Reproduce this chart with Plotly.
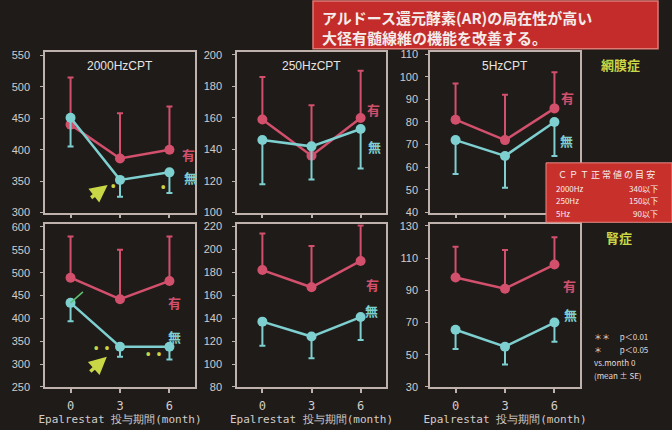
import plotly.graph_objects as go

# ---- data: CPT (current perception threshold) over Epalrestat treatment ----
months = [0, 3, 6]
month_labels = ["0", "3", "6"]

panel_titles = ["2000HzCPT", "250HzCPT", "5HzCPT"]

# 網膜症 (retinopathy) row
ret_2000_yes = [440, 386, 400]
ret_2000_yes_se = [75, 72, 69]
ret_2000_no = [451, 352, 364]
ret_2000_no_se = [46, 27, 33]

ret_250_yes = [159, 136, 160]
ret_250_yes_se = [27, 32, 30]
ret_250_no = [146, 142, 153]
ret_250_no_se = [28, 21, 25]

ret_5_yes = [81, 72, 86]
ret_5_yes_se = [16, 20, 16]
ret_5_no = [72, 65, 80]
ret_5_no_se = [15, 14, 15]

# 腎症 (nephropathy) row
nep_2000_yes = [489, 442, 482]
nep_2000_yes_se = [90, 108, 97]
nep_2000_no = [434, 338, 338]
nep_2000_no_se = [40, 22, 28]

nep_250_yes = [182, 167, 190]
nep_250_yes_se = [32, 36, 31]
nep_250_no = [137, 124, 141]
nep_250_no_se = [21, 19, 20]

nep_5_yes = [98, 91, 106]
nep_5_yes_se = [19, 24, 17]
nep_5_no = [65.5, 55, 70]
nep_5_no_se = [12, 11, 12]

y_ranges = [[300, 556], [100, 202], [40, 111], [250, 606], [80, 222], [30, 131]]
y_dticks = [50, 20, 10, 50, 20, 20]
y_tick0 = [300, 100, 40, 250, 80, 30]

headline = ["アルドース還元酵素(AR)の局在性が高い", "大径有髄線維の機能を改善する。"]
cpt_normal_title = "Ｃ Ｐ Ｔ 正 常 値 の 目 安"
cpt_normal_rows = [("2000Hz", "340以下"), ("250Hz", "150以下"), ("5Hz", "90以下")]
sig_legend = ["＊＊　 p＜0.01", "＊　　 p＜0.05", "vs.month 0", "(mean ± SE)"]

# ---- styling ----
W, H = 672, 430
BG = "#1f1b19"
FRAME = "#bfb2ad"
TICK = "#d2ccc8"
RED = "#d2506c"
CYAN = "#7ecfcf"
YEL = "#c9d645"
JP = "Noto Sans CJK JP"


def px(x):
    return x / W


def py(y):
    return 1 - y / H


def label(x, y, text, size, color, family=JP, xanchor="center"):
    """Paper-positioned text given in page pixels."""
    return dict(x=px(x), y=py(y), xref="paper", yref="paper", text=text,
                showarrow=False, xanchor=xanchor, yanchor="middle", align="left",
                font=dict(family=family, size=size, color=color))


series = [
    (ret_2000_yes, ret_2000_yes_se, ret_2000_no, ret_2000_no_se),
    (ret_250_yes, ret_250_yes_se, ret_250_no, ret_250_no_se),
    (ret_5_yes, ret_5_yes_se, ret_5_no, ret_5_no_se),
    (nep_2000_yes, nep_2000_yes_se, nep_2000_no, nep_2000_no_se),
    (nep_250_yes, nep_250_yes_se, nep_250_no, nep_250_no_se),
    (nep_5_yes, nep_5_yes_se, nep_5_no, nep_5_no_se),
]

col_px = [(45, 195), (237, 386), (430, 580)]
row_px = [(48, 213), (225, 392)]

fig = go.Figure()
layout = {}

for i, (yes, yes_se, no, no_se) in enumerate(series):
    n = i + 1
    xa = "x" if n == 1 else f"x{n}"
    ya = "y" if n == 1 else f"y{n}"
    fig.add_trace(go.Scatter(
        x=months, y=yes, xaxis=xa, yaxis=ya, mode="lines+markers",
        line=dict(color=RED, width=2.5), marker=dict(color=RED, size=10),
        error_y=dict(type="data", symmetric=False, array=yes_se,
                     arrayminus=[0] * 3, color=RED, thickness=2, width=3),
        showlegend=False, hoverinfo="skip"))
    fig.add_trace(go.Scatter(
        x=months, y=no, xaxis=xa, yaxis=ya, mode="lines+markers",
        line=dict(color=CYAN, width=2.5), marker=dict(color=CYAN, size=10),
        error_y=dict(type="data", symmetric=False, array=[0] * 3,
                     arrayminus=no_se, color=CYAN, thickness=2, width=3),
        showlegend=False, hoverinfo="skip"))

    r, c = divmod(i, 3)
    x0, x1 = col_px[c]
    y0, y1 = row_px[r]
    bottom = r == 1
    xkey = "xaxis" if n == 1 else f"xaxis{n}"
    ykey = "yaxis" if n == 1 else f"yaxis{n}"
    layout[xkey] = dict(
        domain=[px(x0), px(x1)], anchor=ya, range=[-1.55, 7.55],
        tickvals=months, ticktext=month_labels if bottom else ["", "", ""],
        ticks="outside", ticklen=4, tickcolor=FRAME, tickwidth=1.5,
        showgrid=False, zeroline=False, showline=True, mirror=True,
        linecolor=FRAME, linewidth=1.5,
        tickfont=dict(family="DejaVu Sans Mono", size=12, color=TICK),
        ticklabelstandoff=3,
        title=dict(text="Epalrestat 投与期間(month)" if bottom else "",
                   font=dict(family="DejaVu Sans Mono", size=11, color=TICK),
                   standoff=3),
    )
    layout[ykey] = dict(
        domain=[py(y1), py(y0)], anchor=xa, range=y_ranges[i],
        tick0=y_tick0[i], dtick=y_dticks[i],
        ticks="outside", ticklen=3, tickcolor=FRAME, tickwidth=1,
        showgrid=False, zeroline=False, showline=True, mirror=True,
        linecolor=FRAME, linewidth=1.5,
        tickfont=dict(family="Liberation Sans", size=11, color=TICK),
        ticklabelstandoff=8 if c < 2 else 5,
    )

fig.update_layout(width=W, height=H, margin=dict(l=0, r=0, t=0, b=0),
                  paper_bgcolor=BG, plot_bgcolor=BG, **layout)

ann = []
shapes = []

# panel titles
for (x0, x1), t in zip(col_px, panel_titles):
    ann.append(label((x0 + x1) / 2, 63, t, 12, "#e8e4e0", family="Liberation Sans"))

# 有 / 無 group labels beside each panel
group_pos = [((188, 153), (190, 177)), ((373, 107), (374, 145)), ((567, 95), (566, 139)),
             ((174, 305), (174, 340)), ((372, 287), (371, 314)), ((569, 288), (570, 318))]
for (yp, np_) in group_pos:
    ann.append(label(yp[0], yp[1], "<b>有</b>", 13, RED))
    ann.append(label(np_[0], np_[1], "<b>無</b>", 13, CYAN))

# significance marks (yellow dots) and arrows
dot_font = dict(size=17, color=YEL)
ann.append(dict(x=2.58, y=343, xref="x", yref="y", text="•", showarrow=False, font=dot_font))
ann.append(dict(x=5.58, y=341, xref="x", yref="y", text="•", showarrow=False, font=dot_font))
ann.append(dict(x=1.86, y=336, xref="x4", yref="y4", text="• •", showarrow=False, font=dot_font))
ann.append(dict(x=5.04, y=323, xref="x4", yref="y4", text="• •", showarrow=False, font=dot_font))
ann.append(dict(x=2.25, y=344, xref="x", yref="y", ax=-18, ay=14, text="",
                showarrow=True, arrowhead=2, arrowsize=1, arrowwidth=3.5, arrowcolor=YEL))
ann.append(dict(x=2.2, y=316, xref="x4", yref="y4", ax=-18, ay=16, text="",
                showarrow=True, arrowhead=2, arrowsize=1, arrowwidth=3.5, arrowcolor=YEL))
shapes.append(dict(type="line", xref="x4", yref="y4", x0=0, y0=nep_2000_no[0],
                   x1=0.75, y1=nep_2000_no[0] + 24, line=dict(color="#5cc070", width=1.5)))

# row labels
ann.append(label(620, 61, "<b>網膜症</b>", 13, YEL))
ann.append(label(619, 239, "<b>腎症</b>", 13, YEL))

# headline box
shapes.append(dict(type="rect", xref="paper", yref="paper", x0=px(313), x1=px(658),
                   y0=py(45), y1=py(-4), fillcolor="#c32c2b",
                   line=dict(color="#e27a74", width=1.5), layer="above"))
ann.append(label(320, 23.5, "<br>".join(f"<b>{s}</b>" for s in headline), 15, "#f4ecea",
                 xanchor="left"))

# CPT normal-value box
shapes.append(dict(type="rect", xref="paper", yref="paper", x0=px(546), x1=px(672),
                   y0=py(223), y1=py(162), fillcolor="#c8302c",
                   line=dict(color="#e48a84", width=1), layer="above"))
ann.append(label(606, 174, cpt_normal_title, 9, "#f6eeee"))
for k, (freq, val) in enumerate(cpt_normal_rows):
    ann.append(label(554, 188 + 13 * k, freq, 8, "#f6eeee", xanchor="left"))
    ann.append(label(660, 188 + 13 * k, val, 8, "#f6eeee", xanchor="right"))

# significance legend
for k, t in enumerate(sig_legend):
    ann.append(label(592, 340 + 13.5 * k, t, 8, "#e2dcd8", xanchor="left"))

fig.update_layout(annotations=ann, shapes=shapes)
fig.write_html("out.html")
